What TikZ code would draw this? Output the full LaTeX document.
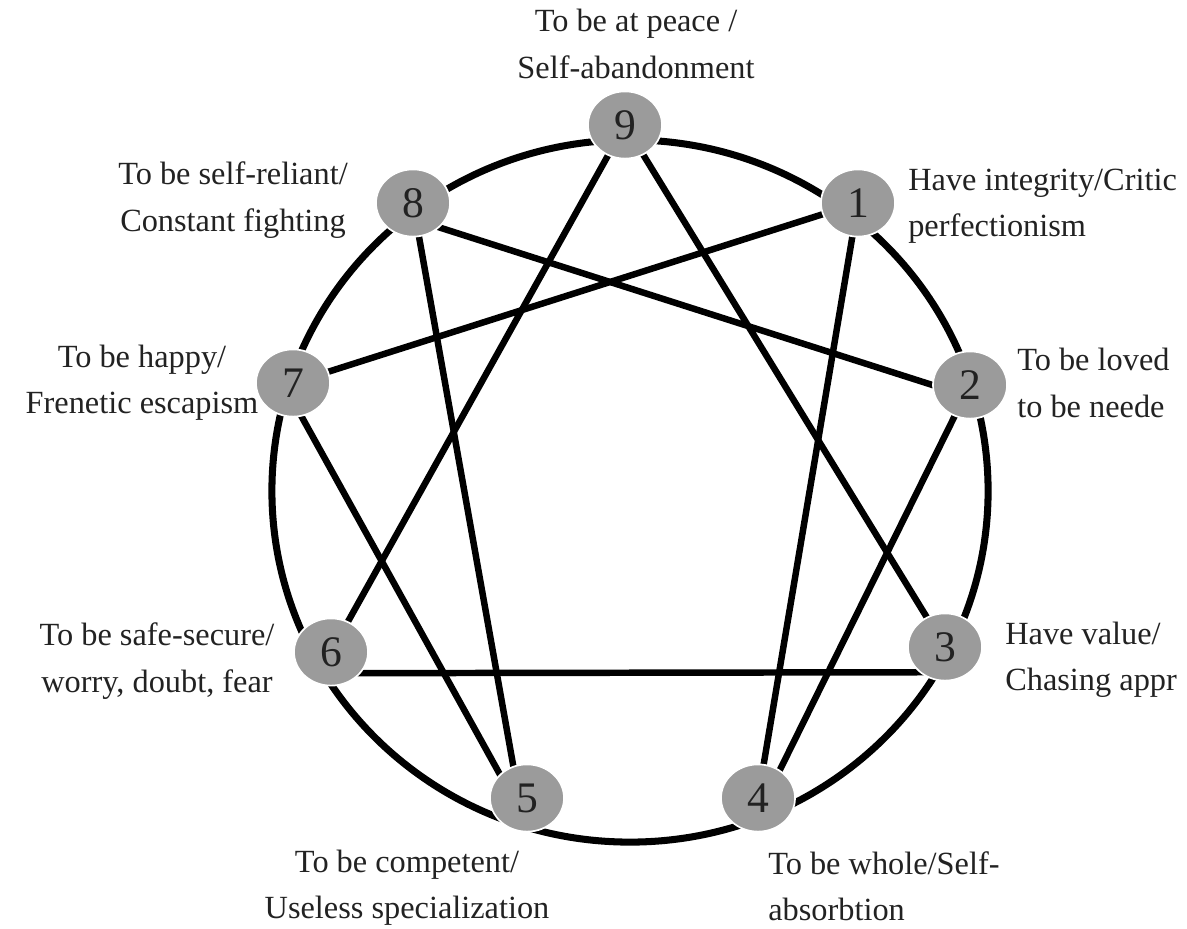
\documentclass[tikz,border=0pt]{standalone}
\usepackage{fontspec}
\setmainfont{Liberation Serif}
\usepackage{xcolor}
\usepackage{tikz}
\usetikzlibrary{shapes.geometric, backgrounds}
\definecolor{ptgray}{RGB}{155,155,155}
\definecolor{dkgray}{RGB}{34,34,34}
\tikzset{
    point/.style={ellipse, fill=ptgray, draw=white, line width=1.2pt,
                  minimum width=1.85cm, minimum height=1.68cm, inner sep=0pt,
                  font=\fontsize{31}{31}\selectfont, text=dkgray},
    desc/.style={align=center, inner sep=0pt,
                 font=\fontsize{23}{33}\selectfont, text=dkgray},
    descl/.style={desc, align=left, anchor=west},
    link/.style={line width=4.6pt, draw=black},
    ring/.style={line width=5pt, draw=black},
}

\begin{document}
\begin{tikzpicture}[x=0.025cm, y=-0.025cm]
    \useasboundingbox (0,0) rectangle (1187,928);

    % Points
    \node[point] (n9) at (625,125) {9};
    \node[point] (n1) at (858,203) {1};
    \node[point] (n2) at (970,385) {2};
    \node[point] (n3) at (945,647) {3};
    \node[point] (n4) at (758,798) {4};
    \node[point] (n5) at (527,798) {5};
    \node[point] (n6) at (331,652) {6};
    \node[point] (n7) at (293,383) {7};
    \node[point] (n8) at (413,203) {8};
    \coordinate (ctr) at (630,491);

    % Labels
    \node[desc] (l9) at (636,44) {To be at peace /\\Self-abandonment};
    \node[desc] (l8) at (233,200) {To be self-reliant/\\Constant fighting};
    \node[descl] (l1) at (908,206) {Have integrity/Critic\\perfectionism};
    \node[desc] (l7) at (142,383) {To be happy/\\Frenetic escapism};
    \node[descl] (l2) at (1017,383) {To be loved\\to be neede};
    \node[desc] (l6) at (157,661) {To be safe-secure/\\worry, doubt, fear};
    \node[descl] (l3) at (1005,660) {Have value/\\Chasing appr};
    \node[desc] (l5) at (407,888) {To be competent/\\Useless specialization};
    \node[descl] (l4) at (768,886) {To be whole/Self-\\absorbtion};

    % Circle and lines
    \begin{scope}[on background layer]
        \draw[ring] (ctr) ellipse [x radius=8.95cm, y radius=8.775cm];
        \draw[link] (n9.center) -- (n3.center);
        \draw[link] (n9.center) -- (n6.center);
        \draw[link] ([yshift=-0.53cm]n6.center) -- ([yshift=-0.63cm]n3.center);
        \draw[link] (n1.center) -- (n4.center);
        \draw[link] ([xshift=0.2cm]n4.center) -- (n2.center);
        \draw[link] ([yshift=-0.3cm]n2.center) -- ([yshift=-0.4cm]n8.center);
        \draw[link] (n8.center) -- ([xshift=-0.2cm]n5.center);
        \draw[link] ([xshift=-0.35cm]n5.center) -- ([xshift=-0.25cm]n7.center);
        \draw[link] (n7.center) -- (n1.center);
    \end{scope}
\end{tikzpicture}
\end{document}
